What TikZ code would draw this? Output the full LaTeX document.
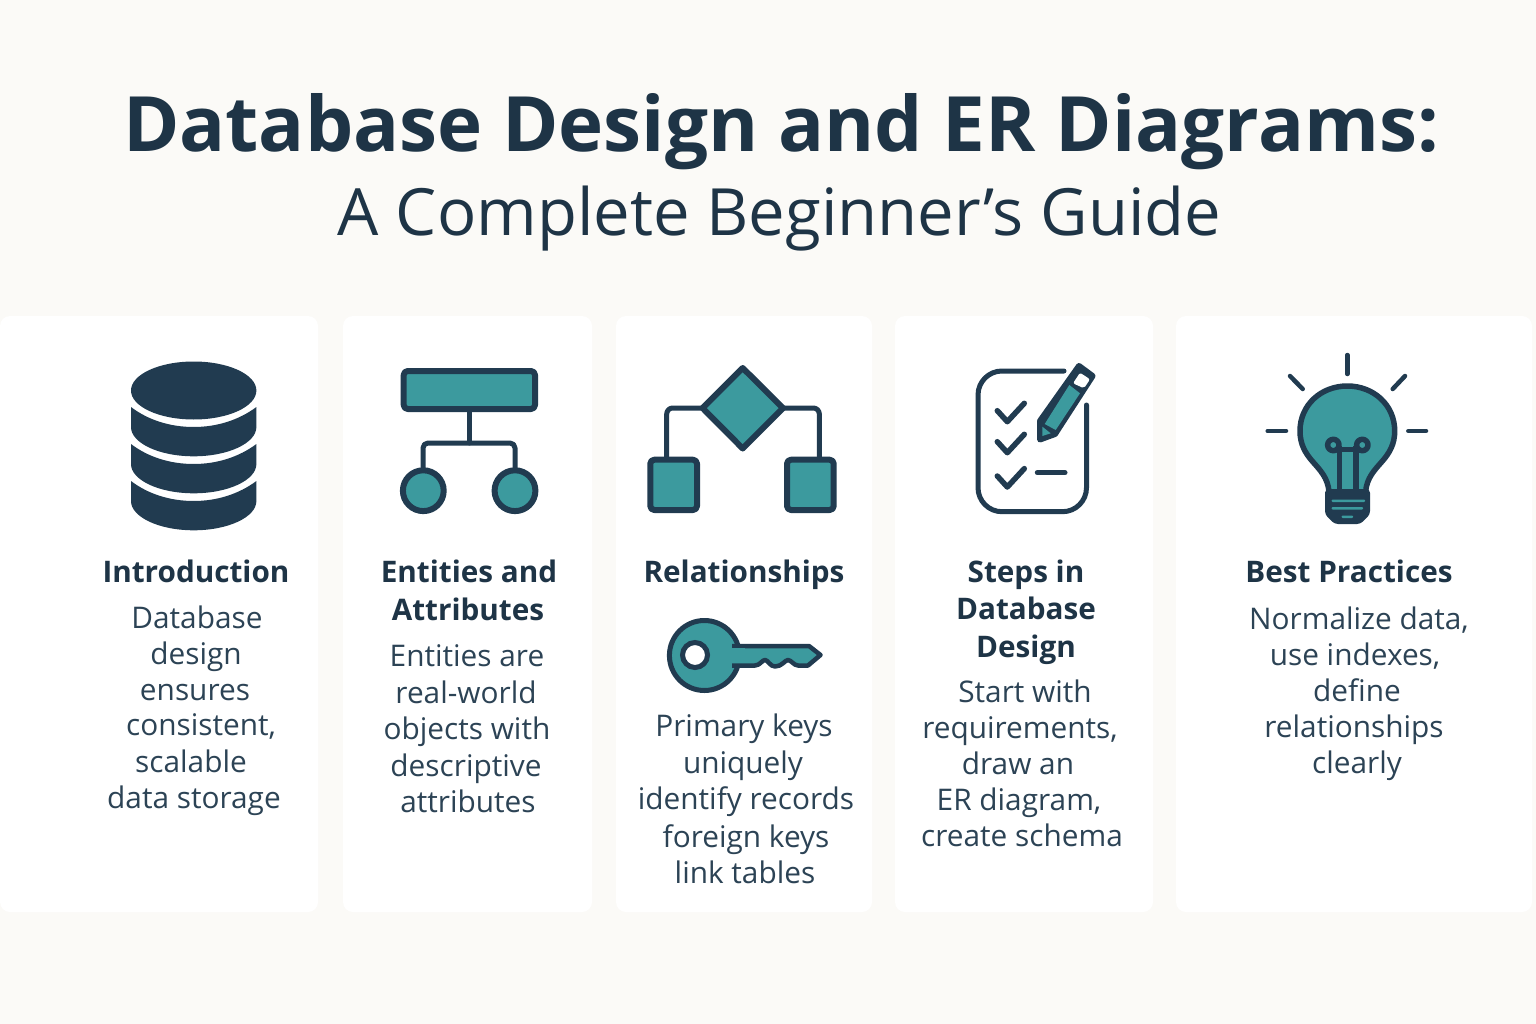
\documentclass[tikz,border=0pt]{standalone}
\usepackage{fontspec}
\setmainfont{Open Sans}
\definecolor{paper}{HTML}{FBFAF7}
\definecolor{ink}{HTML}{213B50}
\definecolor{teal}{HTML}{3C9A9E}
\definecolor{titleink}{HTML}{1E3446}
\definecolor{bodyink}{HTML}{2C4355}
\tikzset{
  card/.style={fill=white,draw=none,rounded corners=10pt},
  heading/.style={anchor=base,inner sep=0pt,text=titleink,font=\fontsize{29.7}{36}\selectfont\bfseries},
  body/.style={anchor=base,inner sep=0pt,text=bodyink,font=\fontsize{29.8}{36}\selectfont},
  iconline/.style={draw=ink,line width=5pt,line cap=round,line join=round},
  iconshape/.style={draw=ink,fill=teal,line width=6pt,line join=round},
  solid ink/.style={fill=ink,draw=none},
}
\begin{document}
\begin{tikzpicture}[x=1pt,y=-1pt]
\useasboundingbox (0,0) rectangle (1536,1024);
\fill[paper] (0,0) rectangle (1536,1024);
% cards
\path[card] (0,316) rectangle (318,912);
\path[card] (343,316) rectangle (592,912);
\path[card] (616,316) rectangle (872,912);
\path[card] (895,316) rectangle (1153,912);
\path[card] (1176,316) rectangle (1532,912);
% title
\node[inner sep=0pt,anchor=base,text=titleink,font=\fontsize{76.35}{80}\selectfont\bfseries] (title) at (781,152) {Database Design and ER Diagrams:};
\node[inner sep=0pt,anchor=base,text=titleink,font=\fontsize{65.2}{70}\selectfont] (subtitle) at (779.5,236) {A Complete Beginner’s Guide};
% database icon
\path[solid ink] (131,390.5) .. controls (131,374.5) and (159,361.5) .. (193.7,361.5) .. controls (228.4,361.5) and (256.4,374.5) .. (256.4,390.5) .. controls (256.4,406.5) and (228.4,419.5) .. (193.7,419.5) .. controls (159,419.5) and (131,406.5) .. (131,390.5) -- cycle;
\foreach \d in {0,37,74}{
  \path[solid ink] (131,407+\d) .. controls (148,420+\d) and (170,427+\d) .. (193.7,427+\d) .. controls (217,427+\d) and (239,420+\d) .. (256.4,407+\d) -- (256.4,427+\d) .. controls (256.4,443+\d) and (228.4,456.3+\d) .. (193.7,456.3+\d) .. controls (159,456.3+\d) and (131,443+\d) .. (131,427+\d) -- cycle;
}
% entity icon
\draw[iconline] (469,409) -- (469,443);
\draw[iconline,rounded corners=5pt] (423,470) -- (423,443) -- (515,443) -- (515,470);
\draw[iconshape,rounded corners=4pt] (403.7,371) rectangle (535,409);
\draw[iconshape] (423.3,490.7) circle (20.4pt);
\draw[iconshape] (515,490.7) circle (20.4pt);
% relationship icon
\draw[iconline,rounded corners=6pt] (666.7,457) -- (666.7,408) -- (819.3,408) -- (819.3,457);
\draw[iconshape] (742.7,368) -- (783,408) -- (742.7,448.5) -- (702.5,408) -- cycle;
\draw[iconshape,rounded corners=4pt] (650.3,459.7) rectangle (697,510);
\draw[iconshape,rounded corners=4pt] (787,459.7) rectangle (833.7,510);
% checklist icon
\draw[iconline,rounded corners=24pt] (1064,371) -- (978,371) -- (978,511.7) -- (1086.5,511.7) -- (1086.5,405);
\foreach \d in {0,31,65.3}{
  \draw[iconline,line width=5.5pt] (997.3,410.7+\d) -- (1007.3,421.7+\d) -- (1024.3,403.3+\d);
}
\draw[iconline] (1037.3,472.7) -- (1065,472.7);
\path[fill=ink,draw=ink,line width=6pt,line join=round] (1040,421) -- (1079,366) -- (1092.5,376) -- (1055,434) -- (1040,439.5) -- cycle;
\path[fill=teal] (1044.7,424) -- (1069.3,385) -- (1080,393.3) -- (1055.7,430) -- cycle;
\path[fill=white,rounded corners=2pt] (1073,383.3) -- (1080,372.7) -- (1090,379.3) -- (1084,388.3) -- cycle;
\path[fill=teal] (1042.3,426.7) -- (1050.7,433.3) -- (1042.3,436) -- cycle;
% light bulb icon
\draw[iconline,line width=4.5pt] (1347.3,355) -- (1347.3,374);
\draw[iconline,line width=4.5pt] (1290,376) -- (1302.7,389);
\draw[iconline,line width=4.5pt] (1405,376) -- (1392.7,389);
\draw[iconline,line width=4.5pt] (1267.7,431) -- (1286,431);
\draw[iconline,line width=4.5pt] (1408.3,431) -- (1426,431);
\draw[iconshape,line width=5.5pt] (1329,492) .. controls (1328,478) and (1320,470) .. (1313,462) .. controls (1305,453) and (1300,444) .. (1300,431) .. controls (1300,405) and (1321,386) .. (1347.3,386) .. controls (1373.6,386) and (1394.7,405) .. (1394.7,431) .. controls (1394.7,444) and (1389.6,453) .. (1381.6,462) .. controls (1374.6,470) and (1366.6,478) .. (1365.6,492);
\draw[iconline,line width=5.5pt,line cap=butt] (1339.3,446) -- (1339.3,492);
\draw[iconline,line width=5.5pt,line cap=butt] (1356,446) -- (1356,492);
\draw[iconline,line width=5.5pt] (1339.3,449.5) -- (1356,449.5);
\draw[iconline,line width=5.5pt] (1333.3,445) circle (5.7pt);
\draw[iconline,line width=5.5pt] (1362.3,445) circle (5.7pt);
\path[fill=ink,draw=ink,line width=2pt,line join=round,rounded corners=3pt] (1326,490) -- (1369,490) -- (1369,514) -- (1360,523) -- (1335,523) -- (1326,514) -- cycle;
\path[fill=teal,rounded corners=1pt] (1331.7,499.5) rectangle (1365,502);
\path[fill=teal,rounded corners=1pt] (1331.7,507) rectangle (1363,509.5);
\path[fill=teal,rounded corners=1pt] (1341.7,515.5) rectangle (1353,518);
% key icon
\draw[iconshape,line width=5pt] (704.4,655.5) circle (35pt);
\draw[iconshape,line width=4.5pt] (732,646) -- (809,646) -- (820.5,655) -- (808,665.5) -- (798,665.5) .. controls (794,665.5) and (791,660) .. (788,660) .. controls (785,660) and (782,666.5) .. (775,666.5) .. controls (770,666.5) and (768,660) .. (765,660) .. controls (762,660) and (760,665.5) .. (755,665.5) -- (732,665.5);
\path[fill=teal] (728,648.3) rectangle (745,663.2);
\draw[draw=ink,fill=white,line width=5pt] (695,655) circle (12.5pt);
% text: introduction
\node[heading] (h1) at (196,582) {Introduction};
\node[body] (b1a) at (197,628) {Database};
\node[body] (b1b) at (196,664) {design};
\node[body] (b1c) at (195,700) {ensures};
\node[body] (b1d) at (201,735) {consistent,};
\node[body] (b1e) at (191,772) {scalable};
\node[body] (b1f) at (194,808) {data storage};
% text: entities
\node[heading] (h2a) at (469,582) {Entities and};
\node[heading] (h2b) at (468,620) {Attributes};
\node[body] (b2a) at (467,666) {Entities are};
\node[body] (b2b) at (466,703) {real-world};
\node[body] (b2c) at (467,739) {objects with};
\node[body] (b2d) at (466,776) {descriptive};
\node[body] (b2e) at (468,812) {attributes};
% text: relationships
\node[heading] (h3) at (744,582) {Relationships};
\node[body] (b3a) at (744,736) {Primary keys};
\node[body] (b3b) at (743,773) {uniquely};
\node[body] (b3c) at (746,809) {identify records};
\node[body] (b3d) at (746,847) {foreign keys};
\node[body] (b3e) at (745,883) {link tables};
% text: steps
\node[heading] (h4a) at (1026,582) {Steps in};
\node[heading] (h4b) at (1026,619) {Database};
\node[heading] (h4c) at (1026,657) {Design};
\node[body] (b4a) at (1025,702) {Start with};
\node[body] (b4b) at (1020,738) {requirements,};
\node[body] (b4c) at (1018,774) {draw an};
\node[body] (b4d) at (1019,810) {ER diagram,};
\node[body] (b4e) at (1022,846) {create schema};
% text: best practices
\node[heading] (h5) at (1349,582) {Best Practices};
\node[body] (b5a) at (1359,629) {Normalize data,};
\node[body] (b5b) at (1355,665) {use indexes,};
\node[body] (b5c) at (1357,701) {define};
\node[body] (b5d) at (1354,737) {relationships};
\node[body] (b5e) at (1357,773) {clearly};
\end{tikzpicture}
\end{document}
